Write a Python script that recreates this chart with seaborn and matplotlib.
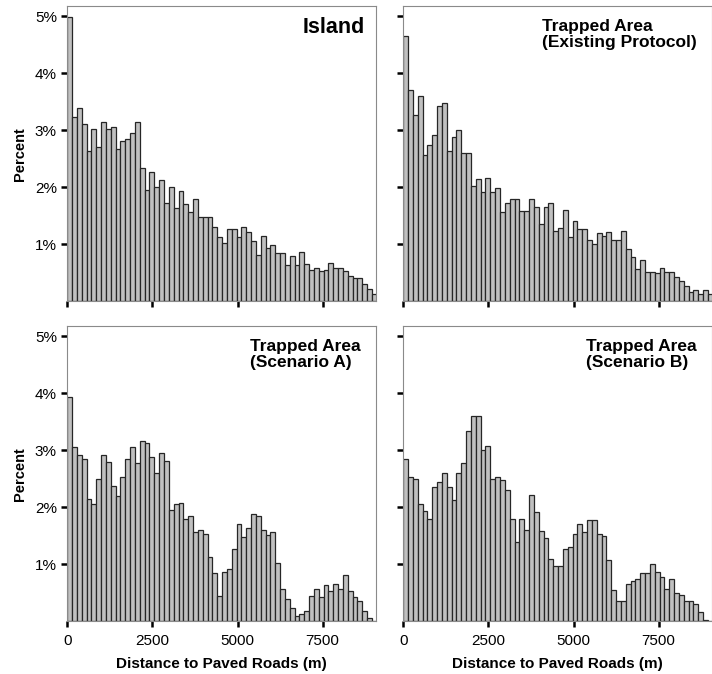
import numpy as np
import pandas as pd
import matplotlib
matplotlib.use("Agg")
import matplotlib.pyplot as plt
import seaborn as sns
from matplotlib.ticker import FuncFormatter

# Share of area (%) in each 142 m distance class, starting at 0 m
BIN_WIDTH = 142

island = [4.98, 3.23, 3.39, 3.11, 2.64, 3.02, 2.70, 3.15, 3.02, 3.06,
          2.68, 2.82, 2.84, 2.95, 3.15, 2.33, 1.96, 2.26, 2.00, 2.13,
          1.72, 2.00, 1.63, 1.94, 1.70, 1.56, 1.79, 1.48, 1.47, 1.47,
          1.30, 1.12, 1.02, 1.26, 1.26, 1.12, 1.30, 1.21, 1.05, 0.81,
          1.14, 0.93, 0.98, 0.84, 0.84, 0.63, 0.79, 0.63, 0.86, 0.65,
          0.55, 0.58, 0.53, 0.55, 0.67, 0.58, 0.58, 0.53, 0.44, 0.41,
          0.41, 0.30, 0.22, 0.13]

existing_protocol = [4.65, 3.70, 3.27, 3.60, 2.56, 2.75, 2.91, 3.43, 3.47, 2.63,
                     2.89, 3.01, 2.61, 2.61, 2.02, 2.14, 1.91, 2.17, 1.92, 1.98,
                     1.56, 1.72, 1.79, 1.79, 1.58, 1.58, 1.79, 1.65, 1.35, 1.65,
                     1.73, 1.23, 1.28, 1.61, 1.12, 1.40, 1.26, 1.26, 1.07, 1.00,
                     1.19, 1.14, 1.21, 1.07, 1.07, 1.23, 0.91, 0.77, 0.56, 0.72,
                     0.51, 0.51, 0.49, 0.58, 0.51, 0.51, 0.42, 0.35, 0.27, 0.16,
                     0.20, 0.13, 0.20, 0.12]

scenario_a = [3.94, 3.05, 2.91, 2.84, 2.14, 2.05, 2.49, 2.91, 2.80, 2.37,
              2.19, 2.54, 2.84, 3.05, 2.77, 3.17, 3.12, 2.89, 2.61, 2.96,
              2.82, 1.95, 2.05, 2.07, 1.79, 1.85, 1.56, 1.60, 1.53, 1.12,
              0.84, 0.44, 0.86, 0.91, 1.26, 1.70, 1.47, 1.63, 1.89, 1.84,
              1.61, 1.51, 1.56, 1.02, 0.56, 0.39, 0.23, 0.10, 0.12, 0.18,
              0.44, 0.56, 0.42, 0.63, 0.53, 0.65, 0.56, 0.81, 0.53, 0.42,
              0.35, 0.18, 0.06, 0.00]

scenario_b = [2.84, 2.54, 2.49, 2.05, 1.93, 1.79, 2.35, 2.44, 2.61, 2.35,
              2.12, 2.61, 2.77, 3.33, 3.61, 3.61, 3.00, 3.08, 2.49, 2.54,
              2.47, 2.30, 1.79, 1.39, 1.79, 1.60, 2.21, 1.91, 1.58, 1.46,
              1.09, 0.97, 0.97, 1.26, 1.30, 1.53, 1.70, 1.56, 1.77, 1.77,
              1.53, 1.49, 1.07, 0.55, 0.36, 0.36, 0.65, 0.70, 0.74, 0.84,
              0.84, 1.00, 0.86, 0.77, 0.56, 0.74, 0.49, 0.46, 0.35, 0.35,
              0.30, 0.16, 0.03, 0.00]

panel_titles = ["Island",
                "Trapped Area\n(Existing Protocol)",
                "Trapped Area\n(Scenario A)",
                "Trapped Area\n(Scenario B)"]
x_ticks = [0, 2500, 5000, 7500]
y_ticks = [0.01, 0.02, 0.03, 0.04, 0.05]
x_label = "Distance to Paved Roads (m)"
y_label = "Percent"

sns.set_style("white")
plt.rcParams["font.family"] = ["Liberation Sans", "DejaVu Sans"]
plt.rcParams["text.color"] = "black"
plt.rcParams["axes.labelcolor"] = "black"
plt.rcParams["xtick.color"] = "black"
plt.rcParams["ytick.color"] = "black"
plt.rcParams["xtick.bottom"] = True
plt.rcParams["ytick.left"] = True

series = [island, existing_protocol, scenario_a, scenario_b]
n_bins = len(island)
centers = (np.arange(n_bins) + 0.5) * BIN_WIDTH

frames = []
for title, vals in zip(panel_titles, series):
    frames.append(pd.DataFrame({"panel": title,
                                "distance": centers,
                                "share": np.asarray(vals) / 100.0}))
df = pd.concat(frames, ignore_index=True)

W, H = 712, 674
fig = plt.figure(figsize=(W / 100, H / 100), dpi=100)

ax_w, ax_h = 308.5, 295.3
lefts = [67.3, 403.3]
tops = [6.0, 326.0]

for i, title in enumerate(panel_titles):
    row, col = divmod(i, 2)
    left = lefts[col]
    top = tops[row]
    ax = fig.add_axes([left / W, 1 - (top + ax_h) / H, ax_w / W, ax_h / H])
    sub = df[df["panel"] == title]
    sns.histplot(data=sub, x="distance", weights="share",
                 binwidth=BIN_WIDTH, binrange=(0, n_bins * BIN_WIDTH), ax=ax,
                 color="#c0c0c0", edgecolor="#262626", linewidth=0.9, alpha=1)
    ax.set_xlim(0, 9060)
    ax.set_ylim(0, 0.0518)
    ax.set_xticks(x_ticks)
    ax.set_yticks(y_ticks)
    ax.yaxis.set_major_formatter(FuncFormatter(lambda v, p: f"{v * 100:.0f}%"))
    ax.tick_params(axis="both", direction="out", length=4.5, width=1.8,
                   color="black", labelcolor="black", labelsize=11)
    ax.tick_params(axis="x", bottom=True, pad=5)
    ax.tick_params(axis="y", left=True, pad=3)
    for s in ax.spines.values():
        s.set_color("#8a8a8a")
        s.set_linewidth(0.8)

    if col == 0:
        ax.set_ylabel(y_label, fontsize=10.5, fontweight="bold", labelpad=6)
    else:
        ax.set_ylabel("")
        ax.tick_params(axis="y", labelleft=False)
    if row == 1:
        ax.set_xlabel(x_label, fontsize=11, fontweight="bold", labelpad=6)
    else:
        ax.set_xlabel("")
        ax.tick_params(axis="x", labelbottom=False)

    if i == 0:
        ax.text(0.965, 0.962, title, transform=ax.transAxes, ha="right",
                va="top", fontsize=15.5, fontweight="bold")
    else:
        ax.text(0.952, 0.957, title, transform=ax.transAxes, ha="right",
                va="top", multialignment="left", fontsize=12.5,
                fontweight="bold", linespacing=1.15)

fig.savefig("out.png", dpi=100)
